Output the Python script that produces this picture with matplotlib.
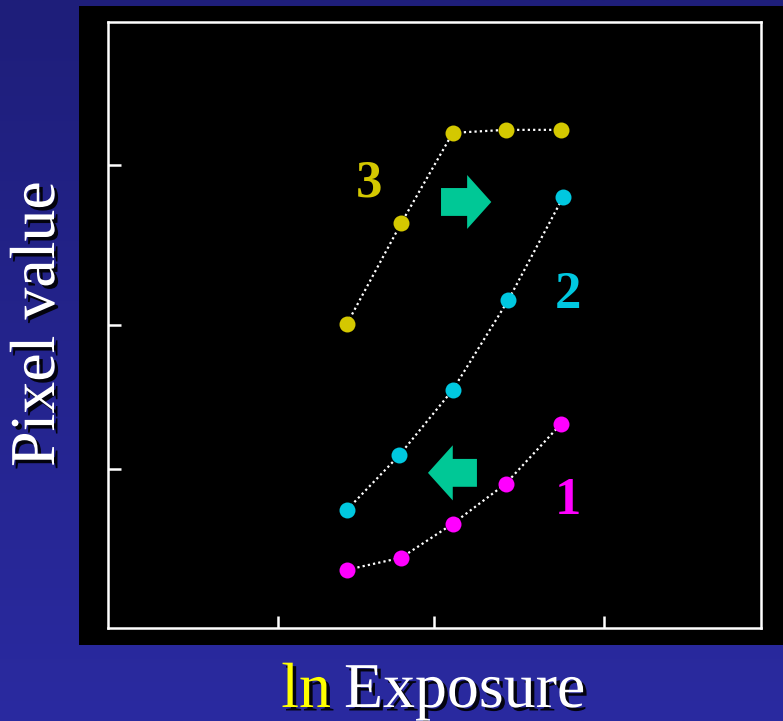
import matplotlib
matplotlib.use('Agg')
import matplotlib.pyplot as plt
import matplotlib.patches as mpatches
import matplotlib.patheffects as pe
import numpy as np

# ln exposure positions (arbitrary units, axis 0..10)
exposure = [3.66, 4.49, 5.28, 6.09, 6.94]
exposure_2 = [3.66, 4.46, 5.28, 6.13, 6.97]

# pixel values (axis 0..100)
curve_1 = [9.6, 11.6, 17.2, 23.8, 33.7]
curve_2 = [19.5, 28.5, 39.3, 54.1, 71.1]
curve_3 = [50.2, 66.8, 81.7, 82.2, 82.2]

x_ticks = [2.6, 5.0, 7.6]
y_ticks = [26.2, 50.0, 76.4]

SERIF = ['Liberation Serif', 'DejaVu Serif']
shadow = [pe.SimplePatchShadow(offset=(2.5, -2.5), shadow_rgbFace='black', alpha=0.9),
          pe.Normal()]

fig = plt.figure(figsize=(7.83, 7.21), dpi=100)

# blue gradient backdrop
bg = fig.add_axes([0, 0, 1, 1], zorder=-10)
grad = np.linspace(0, 1, 256).reshape(-1, 1)
cmap = matplotlib.colors.LinearSegmentedColormap.from_list('bg', ['#1e1e7a', '#2a2aa0'])
bg.imshow(grad, aspect='auto', cmap=cmap, extent=[0, 1, 0, 1], origin='upper')
bg.axis('off')

# black panel behind plot
fig.patches.append(mpatches.Rectangle((0.1009, 0.1054), 0.8991, 0.8863,
                                      transform=fig.transFigure,
                                      facecolor='black', edgecolor='none', zorder=-5))

ax = fig.add_axes([0.1379, 0.1290, 0.834, 0.8405])
ax.set_facecolor('black')
ax.set_xlim(0, 10)
ax.set_ylim(0, 100)

series = [
    (exposure, curve_1, '#ff00ff', '1', (7.05, 21.0)),
    (exposure_2, curve_2, '#00c8e0', '2', (7.05, 54.9)),
    (exposure, curve_3, '#d4c800', '3', (4.0, 73.4)),
]
for xs, ys, color, label, pos in series:
    ax.plot(xs, ys, color='white', lw=1.6, dashes=(1, 1.4), zorder=2)
    ax.plot(xs, ys, 'o', color=color, markersize=11.5, markeredgewidth=0, zorder=3)
    ax.text(pos[0], pos[1], label, color=color, fontsize=38, fontweight='bold',
            family=SERIF, ha='center', va='center')

# shift arrows
green = '#00c896'
ax.add_patch(mpatches.FancyArrow(5.10, 70.3, 0.77, 0, width=4.6, head_width=8.9,
                                 head_length=0.37, length_includes_head=True,
                                 color=green, lw=0, zorder=4))
ax.add_patch(mpatches.FancyArrow(5.65, 25.6, -0.75, 0, width=4.6, head_width=9.1,
                                 head_length=0.38, length_includes_head=True,
                                 color=green, lw=0, zorder=4))

ax.set_xticks(x_ticks)
ax.set_yticks(y_ticks)
ax.set_xticklabels([])
ax.set_yticklabels([])
ax.tick_params(direction='in', length=9, width=1.8, color='white')
for spine in ax.spines.values():
    spine.set_color('white')
    spine.set_linewidth(1.8)

fig.text(331 / 783, 0.0194, 'ln', color='#ffff00', fontsize=46, family=SERIF,
         ha='right', va='baseline', path_effects=shadow)
fig.text(344 / 783, 0.0194, 'Exposure', color='white', fontsize=46, family=SERIF,
         ha='left', va='baseline', path_effects=shadow)
fig.text(39 / 783, 1 - 324 / 721, 'Pixel value', color='white', fontsize=46,
         family=SERIF, rotation=90, ha='center', va='center', path_effects=shadow)

fig.savefig('out.png', dpi=100, facecolor='#23238c')
